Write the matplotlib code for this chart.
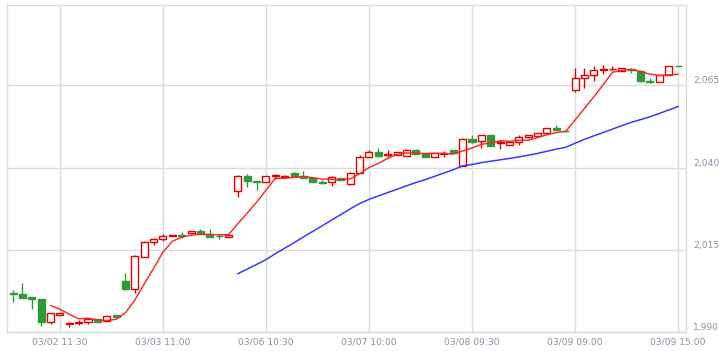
import matplotlib
matplotlib.use("Agg")
import matplotlib.pyplot as plt
import numpy as np
import pandas as pd

# 30 minute candles, 03/02 09:00 .. 03/09 15:00
opens = [2001.9, 2001.5, 2000.5, 1999.9, 1992.9, 1995.3, 1992.5, 1992.8, 1992.9, 1993.8,
         1993.3, 1995.2, 2005.5, 2003.0, 2012.9, 2017.5, 2018.4, 2019.3, 2019.5, 2020.0,
         2020.6, 2019.7, 2019.2, 2019.0, 2033.0, 2037.3, 2035.8, 2035.7, 2037.3, 2037.2,
         2038.4, 2037.3, 2036.9, 2035.6, 2035.7, 2036.9, 2035.1, 2038.4, 2043.3, 2044.8,
         2043.8, 2043.9, 2043.6, 2045.2, 2044.2, 2043.3, 2044.2, 2045.2, 2040.4, 2048.7,
         2048.0, 2049.9, 2047.6, 2046.9, 2047.7, 2049.2, 2049.7, 2050.4, 2052.0, 2051.2,
         2063.6, 2067.2, 2068.1, 2069.5, 2069.8, 2069.4, 2069.8, 2069.4, 2066.4, 2065.9,
         2068.1, 2071.0]
highs = [2002.7, 2004.8, 2000.6, 2000.0, 1995.8, 1995.9, 1993.1, 1993.6, 1994.1, 1994.0,
         1994.8, 1995.2, 2007.8, 2013.3, 2017.6, 2018.5, 2019.7, 2019.6, 2020.4, 2020.6,
         2021.2, 2021.4, 2019.9, 2019.6, 2037.6, 2037.9, 2036.0, 2037.4, 2038.1, 2037.6,
         2038.5, 2038.8, 2037.0, 2036.1, 2037.3, 2036.9, 2038.5, 2043.8, 2045.4, 2046.0,
         2045.2, 2044.7, 2045.5, 2045.7, 2044.3, 2044.4, 2044.9, 2045.3, 2049.0, 2049.9,
         2050.0, 2050.0, 2048.4, 2048.0, 2049.9, 2050.0, 2050.6, 2052.1, 2052.9, 2051.3,
         2070.2, 2070.4, 2070.9, 2071.2, 2070.9, 2070.3, 2070.2, 2069.5, 2067.1, 2068.1,
         2070.9, 2071.0]
lows = [1999.2, 2000.3, 1996.9, 1991.8, 1992.4, 1995.3, 1991.6, 1992.1, 1992.3, 1993.0,
        1993.2, 1994.6, 2002.9, 2002.0, 2012.9, 2016.4, 2017.6, 2019.3, 2018.7, 2020.0,
        2019.7, 2019.0, 2018.2, 2019.0, 2031.0, 2034.0, 2033.2, 2035.7, 2036.4, 2037.2,
        2037.0, 2036.9, 2035.5, 2035.1, 2034.5, 2036.2, 2034.8, 2038.4, 2043.3, 2043.3,
        2043.1, 2043.9, 2043.6, 2044.2, 2043.1, 2043.3, 2043.3, 2044.4, 2040.4, 2047.6,
        2046.0, 2046.4, 2045.5, 2046.8, 2046.9, 2049.1, 2049.6, 2050.3, 2051.4, 2050.9,
        2063.0, 2064.3, 2066.4, 2068.4, 2069.4, 2069.4, 2068.7, 2066.1, 2065.8, 2065.9,
        2068.1, 2070.8]
closes = [2001.4, 2000.4, 1999.9, 1992.9, 1995.7, 1995.8, 1992.7, 1993.0, 1993.8, 1993.1,
          1994.8, 1994.6, 2003.0, 2013.0, 2017.5, 2018.4, 2019.3, 2019.6, 2019.3, 2020.6,
          2019.7, 2019.0, 2019.1, 2019.6, 2037.3, 2035.8, 2035.5, 2037.3, 2037.6, 2037.5,
          2037.1, 2036.9, 2035.5, 2035.4, 2037.2, 2036.3, 2038.4, 2043.3, 2044.6, 2043.6,
          2044.0, 2044.6, 2045.4, 2044.2, 2043.1, 2044.3, 2044.4, 2044.5, 2048.7, 2047.7,
          2049.9, 2046.5, 2047.8, 2047.9, 2049.4, 2049.9, 2050.5, 2052.0, 2051.4, 2051.0,
          2067.2, 2068.1, 2069.6, 2069.8, 2070.0, 2070.2, 2069.6, 2066.2, 2065.9, 2068.1,
          2070.9, 2070.8]

tick_pos = [5, 16, 27, 38, 49, 60, 71]
tick_labels = ["03/02 11:30", "03/03 11:00", "03/06 10:30", "03/07 10:00",
               "03/08 09:30", "03/09 09:00", "03/09 15:00"]
y_ticks = [1990, 2015, 2040, 2065]

UP = "#e60000"
DOWN = "#2f9a38"
GRID = "#dcdcdc"
TXT = "#8593a3"

df = pd.DataFrame({"o": opens, "h": highs, "l": lows, "c": closes})
x = np.arange(len(df))
ma5 = df["c"].rolling(5).mean()
ma25 = df["c"].rolling(25).mean()

fig = plt.figure(figsize=(7.19, 3.51), dpi=100)
ax = fig.add_axes([7 / 719, 19 / 351, 679 / 719, 327 / 351])

up = df["c"] >= df["o"]
cols = np.where(up, UP, DOWN)

ax.vlines(x, df["l"], df["h"], colors=cols, lw=1.0, zorder=2)
ax.bar(x[up], (df["c"] - df["o"])[up], bottom=df["o"][up], width=0.75,
       facecolor="white", edgecolor=UP, lw=1.0, zorder=3)
ax.bar(x[~up], (df["o"] - df["c"])[~up], bottom=df["c"][~up], width=0.75,
       facecolor=DOWN, edgecolor=DOWN, lw=1.0, zorder=3)

ax.plot(x, ma5, color="#ff2020", lw=1.0, zorder=4)
ax.plot(x, ma25, color="#3a3aff", lw=1.1, zorder=4)

ax.set_xlim(-0.65, 71.85)
ax.set_ylim(1990, 2089.4)

ax.set_xticks(tick_pos)
ax.set_xticklabels(tick_labels)
ax.set_yticks(y_ticks)
ax.set_yticklabels([f"{v:,}" for v in y_ticks])
ax.yaxis.tick_right()
ax.tick_params(length=0, labelsize=6.6, colors=TXT)
ax.tick_params(axis="x", pad=4)
ax.tick_params(axis="y", pad=5)
for lbl in ax.get_yticklabels():
    lbl.set_va("bottom")

ax.grid(True, color=GRID, lw=1.0, zorder=0)
ax.set_axisbelow(True)
for s in ax.spines.values():
    s.set_color(GRID)
    s.set_linewidth(1.0)

fig.savefig("out.png", dpi=100, facecolor="white")
